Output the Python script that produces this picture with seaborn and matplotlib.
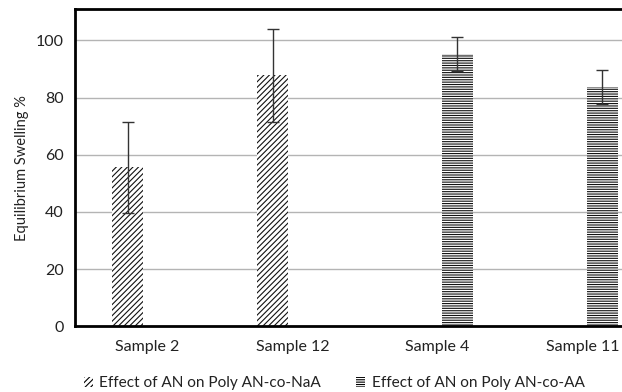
import numpy as np
import pandas as pd
import matplotlib
matplotlib.use("Agg")
import matplotlib.pyplot as plt
import seaborn as sns
from matplotlib.patches import Patch

samples = ["Sample 2", "Sample 12", "Sample 4", "Sample 11"]
groups = ["Effect of AN on Poly AN-co-NaA", "Effect of AN on Poly AN-co-AA"]
# Excel-style clustered columns: each sample has a value only in one series
naa_swelling = [55.6, 87.8, 0, 0]
aa_swelling = [0, 0, 95.2, 83.7]
err = [16.0, 16.3, 6.0, 5.9]

df = pd.DataFrame({
    "sample": samples * 2,
    "group": [groups[0]] * 4 + [groups[1]] * 4,
    "swelling": naa_swelling + aa_swelling,
})

sns.set_style("white")
plt.rcParams["font.family"] = ["Lato", "DejaVu Sans"]
plt.rcParams["hatch.linewidth"] = 0.8

fig = plt.figure(figsize=(6.22, 3.92), dpi=100)
ax = fig.add_axes([0.1206, 0.168, 0.9325, 0.809])

sns.barplot(data=df, x="sample", y="swelling", hue="group", order=samples,
            hue_order=groups, width=0.55, gap=0.22, errorbar=None,
            palette=["white", "white"], edgecolor="black", linewidth=0,
            legend=False, ax=ax)

hatches = ["//////", "-------"]
for cont, h in zip(ax.containers, hatches):
    for bar in cont:
        bar.set_hatch(h)
        bar.set_edgecolor("#111111")
        bar.set_linewidth(0)
        if bar.get_height() <= 0 or np.isnan(bar.get_height()):
            continue
        xc = bar.get_x() + bar.get_width() / 2
        i = int(round(xc))
        ax.errorbar(xc, bar.get_height(), yerr=err[i], color="#333333",
                    lw=1, capsize=4, capthick=1, zorder=5)

ax.set_xlim(-0.5, 3.5)
ax.set_ylim(0, 111)
ax.set_yticks([0, 20, 40, 60, 80, 100])
ax.yaxis.grid(True, color="#b4b4b4", lw=1)
ax.set_axisbelow(True)
ax.set_xlabel("")
ax.set_ylabel("Equilibrium Swelling %", fontsize=10.5, color="#222222", labelpad=5)
ax.tick_params(axis="both", length=0, labelsize=11.5, colors="#222222")
ax.tick_params(axis="x", pad=10)
ax.tick_params(axis="y", pad=8)
for side in ["left", "bottom", "top"]:
    ax.spines[side].set_visible(True)
    ax.spines[side].set_color("black")
    ax.spines[side].set_linewidth(2)
ax.spines["right"].set_visible(False)

handles = [Patch(facecolor="white", edgecolor="black", hatch=h, lw=0) for h in hatches]
fig.legend(handles, groups, loc="center", bbox_to_anchor=(0.537, 0.022), ncol=2,
           frameon=False, fontsize=11.1, handlelength=0.6, handleheight=0.6,
           handletextpad=0.4, columnspacing=2.3, labelcolor="#222222")

fig.savefig("out.png", dpi=100)
